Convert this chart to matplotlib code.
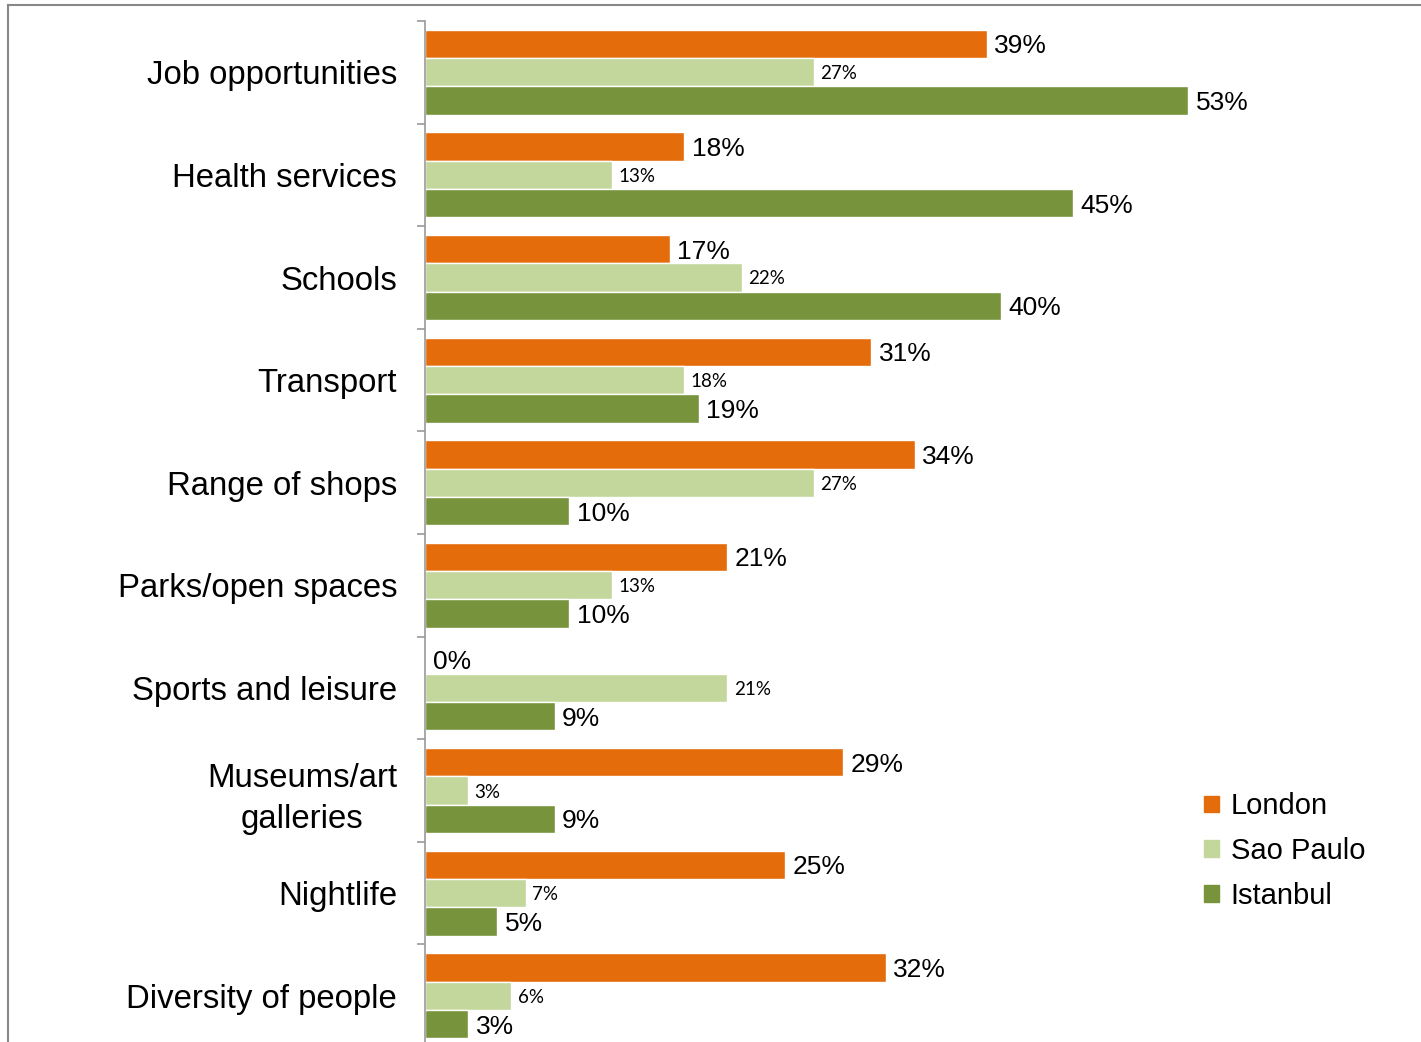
import matplotlib.pyplot as plt
from matplotlib.lines import Line2D
import numpy as np

categories = ["Job opportunities", "Health services", "Schools", "Transport",
              "Range of shops", "Parks/open spaces", "Sports and leisure",
              "Museums/art\ngalleries", "Nightlife", "Diversity of people"]
london = [39, 18, 17, 31, 34, 21, 0, 29, 25, 32]
sao_paulo = [27, 13, 22, 18, 27, 13, 21, 3, 7, 6]
istanbul = [53, 45, 40, 19, 10, 10, 9, 9, 5, 3]
series_names = ["London", "Sao Paulo", "Istanbul"]
colors = ["#E46C0A", "#C3D69B", "#77933C"]

W, H = 1421, 1042
fig = plt.figure(figsize=(W / 100, H / 100), dpi=100)
plt.rcParams['font.family'] = ['Liberation Sans', 'DejaVu Sans']

# axes: left edge at x=425px, top at y=21px, ~102.6px per category
left, top, width = 425, 21, 975
height = 102.6 * len(categories)
ax = fig.add_axes([left / W, 1 - (top + height) / H, width / W, height / H])
px_per_pct = 14.4
ax.set_xlim(0, width / px_per_pct)
ax.set_ylim(len(categories) - 0.5, -0.5)

y = np.arange(len(categories))
h = 0.276
for i, (vals, col) in enumerate(zip([london, sao_paulo, istanbul], colors)):
    pos = y + (i - 1) * h
    ax.barh(pos, vals, height=h, color=col, edgecolor="white", linewidth=1,
            label=series_names[i])
    for p, v in zip(pos, vals):
        if i == 1:
            ax.annotate(f"{v}%", (v, p), xytext=(4.5, 0), textcoords="offset points",
                        va="center_baseline", ha="left", fontsize=13.5, family="Lato")
        else:
            ax.annotate(f"{v}%", (v, p), xytext=(5.5, 0), textcoords="offset points",
                        va="center_baseline", ha="left", fontsize=19)

for s in ["top", "right", "bottom"]:
    ax.spines[s].set_visible(False)
ax.spines["left"].set_color("#999999")
ax.spines["left"].set_linewidth(1.2)
ax.set_xticks([])
ax.set_yticks(y)
ax.set_yticklabels(categories, fontsize=23.7, multialignment="center", linespacing=1.4)
ax.set_yticks(np.arange(-0.5, len(categories), 1), minor=True)
ax.tick_params(axis="y", which="major", length=0, pad=20)
ax.tick_params(axis="y", which="minor", length=6, color="#999999", width=1.2)

# legend
handles = [plt.Rectangle((0, 0), 1, 1, color=c) for c in colors]
fig.legend(handles, series_names, loc="upper left",
           bbox_to_anchor=(1184 / W, 1 - 772 / H), frameon=False, fontsize=21,
           handlelength=0.5, handleheight=0.5, handletextpad=0.4, labelspacing=0.57,
           borderpad=0.2)

# chart border
fig.add_artist(Line2D([8 / W, 8 / W], [0, 1 - 5 / H], color="#888888", linewidth=1.5))
fig.add_artist(Line2D([8 / W, 1], [1 - 5 / H, 1 - 5 / H], color="#888888", linewidth=1.5))

fig.savefig("out.png", dpi=100)
